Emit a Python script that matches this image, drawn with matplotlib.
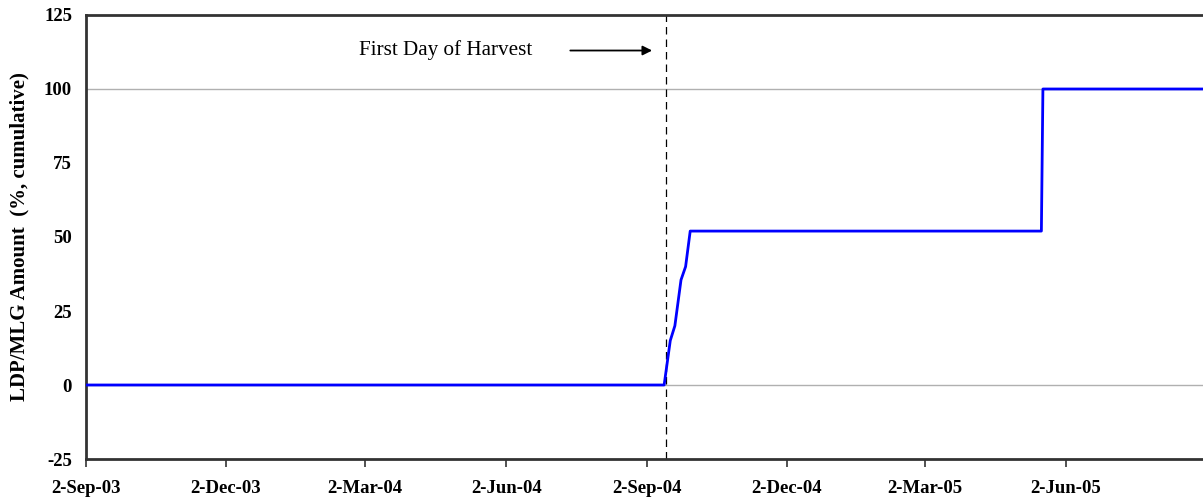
import numpy as np
import pandas as pd
import matplotlib
matplotlib.use("Agg")
import matplotlib.pyplot as plt
import matplotlib.dates as mdates

# cumulative LDP/MLG amount (%)
dates = ["2003-09-02", "2004-09-13", "2004-09-17", "2004-09-20", "2004-09-24",
         "2004-09-27", "2004-09-30", "2005-05-17", "2005-05-18", "2005-09-02"]
values = [0, 0, 15, 20, 35.5, 40, 52, 52, 100, 100]

harvest_day = "2004-09-14"
tick_dates = ["2003-09-02", "2003-12-02", "2004-03-02", "2004-06-02",
              "2004-09-02", "2004-12-02", "2005-03-02", "2005-06-02"]
y_ticks = [-25, 0, 25, 50, 75, 100, 125]

plt.rcParams['font.family'] = ['Liberation Serif', 'DejaVu Serif']
plt.rcParams['axes.unicode_minus'] = False

fig = plt.figure(figsize=(12.03, 5.01), dpi=100)
ax = fig.add_axes([86 / 1203, 1 - 459 / 501, (1207 - 86) / 1203, (459 - 15) / 501])

x = pd.to_datetime(dates)
ax.axhline(0, color='#b0b0b0', lw=1, zorder=1)
ax.axhline(100, color='#b0b0b0', lw=1, zorder=1)
ax.plot(x, values, color='#0000ff', lw=2.0, zorder=3, solid_joinstyle='round')

hx = pd.Timestamp(harvest_day)
ax.axvline(hx, color='black', lw=0.9, ls=(0, (6, 4)), zorder=2)

ax.annotate('', xy=(hx - pd.Timedelta(days=7), 113), xytext=(hx - pd.Timedelta(days=64), 113),
            arrowprops=dict(arrowstyle='-|>', color='black', lw=1.3, mutation_scale=14))
ax.text(hx - pd.Timedelta(days=87), 113, 'First Day of Harvest', ha='right', va='center',
        fontsize=15.2)

ax.set_xlim(pd.Timestamp("2003-09-02"), pd.Timestamp("2005-09-02"))
ax.set_ylim(-25, 125)
ax.set_yticks(y_ticks)
ax.set_xticks(pd.to_datetime(tick_dates))
ax.xaxis.set_major_formatter(mdates.DateFormatter('%-d-%b-%y'))

for lab in ax.get_xticklabels() + ax.get_yticklabels():
    lab.set_fontweight('bold')
ax.tick_params(axis='x', labelsize=13.5, length=6, width=1.2, direction='out', pad=9, color='#333333')
ax.tick_params(axis='y', labelsize=13.5, length=0, pad=10)

for s in ['top', 'bottom', 'left']:
    ax.spines[s].set_color('#333333')
    ax.spines[s].set_linewidth(2)
ax.spines['right'].set_visible(False)

ax.set_ylabel('LDP/MLG Amount  (%, cumulative)', fontsize=15, fontweight='bold')
ax.yaxis.set_label_coords(-57 / 1121, 0.5)

fig.savefig('out.png', dpi=100)
